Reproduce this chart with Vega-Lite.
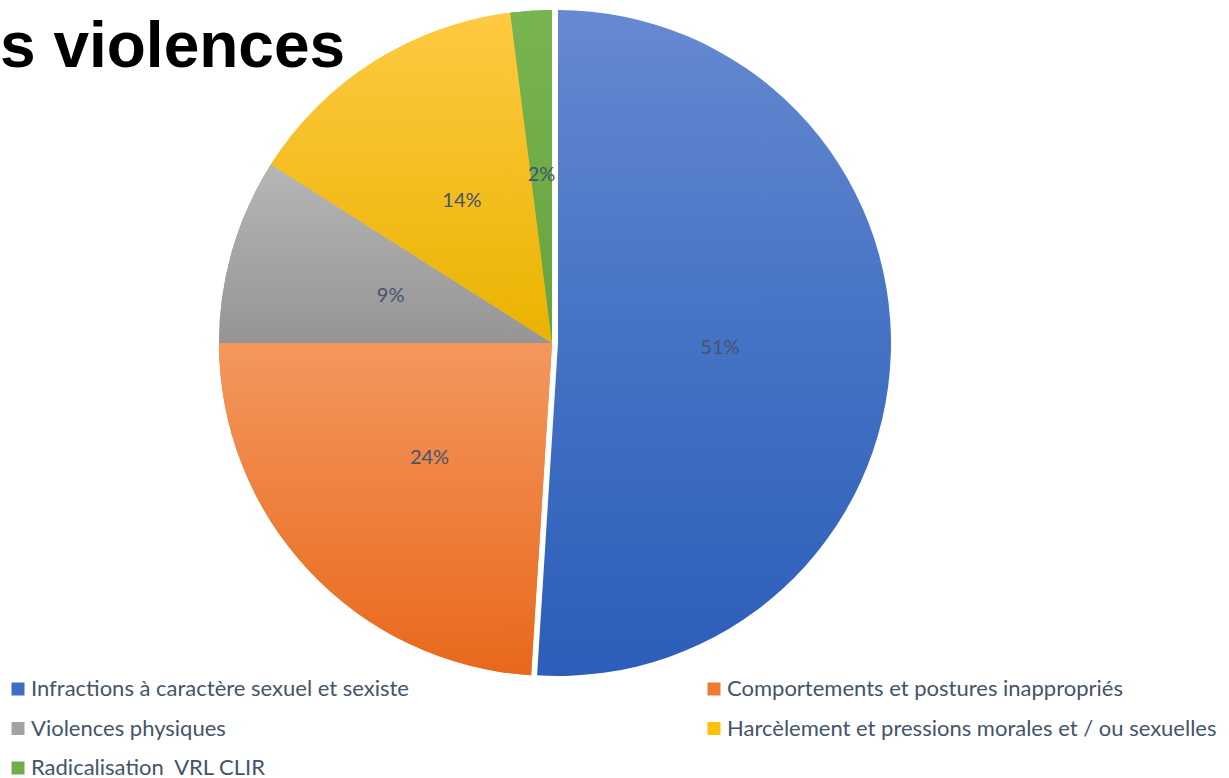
{
  "$schema": "https://vega.github.io/schema/vega-lite/v6.json",
  "width": 1104,
  "height": 686,
  "autosize": {"type": "none"},
  "padding": {"left": 0, "top": 0, "right": 125, "bottom": 92},
  "background": "white",
  "title": {"text": "s violences", "anchor": "start", "frame": "group", "orient": "none", "dx": 0, "dy": 67, "baseline": "alphabetic", "align": "left", "font": "Liberation Sans", "fontSize": 64, "fontWeight": "bold", "color": "#000000"},
  "config": {"view": {"stroke": null}},
  "data": {"values": [
    {"categorie": "Infractions à caractère sexuel et sexiste", "pct": 51, "rang": 1, "etiquette": "51%"},
    {"categorie": "Comportements et postures inappropriés", "pct": 24, "rang": 2, "etiquette": "24%"},
    {"categorie": "Violences physiques", "pct": 9, "rang": 3, "etiquette": "9%"},
    {"categorie": "Harcèlement et pressions morales et / ou sexuelles", "pct": 14, "rang": 4, "etiquette": "14%"},
    {"categorie": "Radicalisation\u00a0 VRL CLIR", "pct": 2, "rang": 5, "etiquette": "2%"}
  ]},
  "transform": [{"stack": "pct", "sort": [{"field": "rang", "order": "ascending"}], "groupby": [], "as": ["t0", "t1"]}],
  "layer": [
    {
      "transform": [{"filter": "datum.rang != 1"}],
      "mark": {"type": "arc", "radius": 333},
      "encoding": {
        "theta": {"field": "t0", "type": "quantitative", "scale": {"domain": [0, 100]}},
        "theta2": {"field": "t1"},
        "color": {
          "field": "categorie", "type": "nominal",
          "scale": {
            "domain": ["Infractions à caractère sexuel et sexiste", "Comportements et postures inappropriés", "Violences physiques", "Harcèlement et pressions morales et / ou sexuelles", "Radicalisation\u00a0 VRL CLIR"],
            "range": ["#3F6DC4", "#EE7B32", "#A3A3A3", "#FCC10A", "#70AD47"]
          },
          "sort": null,
          "legend": {
            "orient": "none", "legendX": 7, "legendY": 678, "direction": "horizontal", "columns": 2, "columnPadding": 294, "rowPadding": 17.5,
            "padding": 0, "title": null, "symbolType": "square", "symbolSize": 169, "symbolStrokeWidth": 0, "symbolOpacity": 1,
            "labelFont": "Lato", "labelFontSize": 22, "labelColor": "#44546A", "labelOffset": 2, "labelLimit": 1000
          }
        }
      }
    },
    {
      "transform": [{"filter": "datum.rang != 1"}],
      "mark": {"type": "arc", "radius": 333},
      "encoding": {
        "theta": {"field": "t0", "type": "quantitative", "scale": {"domain": [0, 100]}},
        "theta2": {"field": "t1"},
        "fill": {
          "condition": [
            {"test": "datum.rang == 2", "value": {"gradient": "linear", "x1": 0, "y1": 0, "x2": 0, "y2": 1, "stops": [{"offset": 0, "color": "#F4975F"}, {"offset": 1, "color": "#E8681A"}]}},
            {"test": "datum.rang == 3", "value": {"gradient": "linear", "x1": 0, "y1": 0, "x2": 0, "y2": 1, "stops": [{"offset": 0, "color": "#B6B6B6"}, {"offset": 1, "color": "#959595"}]}},
            {"test": "datum.rang == 4", "value": {"gradient": "linear", "x1": 0, "y1": 0, "x2": 0, "y2": 1, "stops": [{"offset": 0, "color": "#FFC942"}, {"offset": 1, "color": "#EAB300"}]}}
          ],
          "value": {"gradient": "linear", "x1": 0, "y1": 0, "x2": 0, "y2": 1, "stops": [{"offset": 0, "color": "#78B450"}, {"offset": 1, "color": "#66A33D"}]}
        }
      }
    },
    {
      "transform": [{"filter": "datum.rang == 1"}],
      "mark": {"type": "arc", "radius": 333, "xOffset": 6,
        "fill": {"gradient": "linear", "x1": 0, "y1": 0, "x2": 0, "y2": 1, "stops": [{"offset": 0, "color": "#6689D1"}, {"offset": 0.5, "color": "#4472C4"}, {"offset": 1, "color": "#2D5DBA"}]}},
      "encoding": {
        "theta": {"field": "t0", "type": "quantitative", "scale": {"domain": [0, 100]}},
        "theta2": {"field": "t1"}
      }
    },
    {
      "mark": {"type": "text", "radius": 168, "font": "Lato", "fontSize": 20, "color": "#44546A", "baseline": "middle", "align": "center"},
      "encoding": {
        "theta": {"field": "pct", "type": "quantitative", "stack": true},
        "detail": {"field": "categorie"},
        "order": {"field": "rang", "type": "quantitative"},
        "text": {"field": "etiquette"}
      }
    }
  ]
}
